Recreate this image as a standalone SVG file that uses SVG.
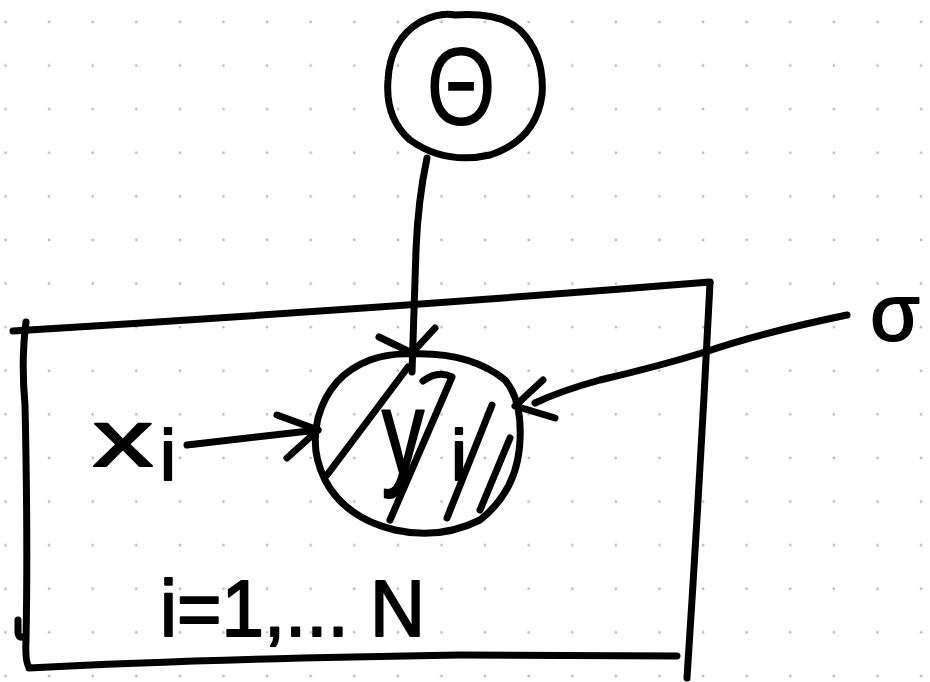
<svg xmlns="http://www.w3.org/2000/svg" width="930" height="682" viewBox="0 0 930 682">
<defs>
<pattern id="dots" x="-16.3" y="0.2" width="43.6" height="43.6" patternUnits="userSpaceOnUse">
<circle cx="21.8" cy="21.8" r="1.4" fill="#bdbdbd"/>
</pattern>
<style>
.ink{fill:none;stroke:#000;stroke-width:7;stroke-linecap:round;stroke-linejoin:round}
.hand{font-family:"Liberation Sans","DejaVu Sans",sans-serif;fill:#000;stroke:#000;stroke-width:2;stroke-linejoin:round}
</style>
</defs>
<rect width="930" height="682" fill="#fff"/>
<rect width="930" height="682" fill="url(#dots)"/>

<g id="plate">
<path class="ink" d="M13,331 Q360,310 710,282"/>
<path class="ink" d="M710,283 Q700,480 687,678"/>
<path class="ink" d="M26,322 Q21,360 25,405 Q28,540 26,640 Q25,662 29,667"/>
<path class="ink" d="M29,668 Q200,659 460,655 L677,656"/>
<path class="ink" d="M18,620 L18,633 Q19,638 22,637"/>
<text class="hand" x="160" y="636" font-size="80" textLength="265" lengthAdjust="spacingAndGlyphs">i=1,... N</text>
</g>

<g id="node-theta">
<path class="ink" d="M455,15 Q500,12 520,30 Q545,55 542,95 Q536,140 490,155 Q445,165 410,140 Q385,118 388,80 Q390,40 420,22 Q440,12 455,15 Z"/>
<text x="0" y="0" font-size="112" text-anchor="middle" font-family="'Liberation Sans','DejaVu Sans',sans-serif" fill="#000" transform="translate(461,125) scale(0.8,1)">Θ</text>
</g>

<g id="node-y">
<path class="ink" d="M412,354 Q470,352 505,380 Q522,400 520,440 Q518,490 480,520 Q440,540 395,530 Q345,518 325,480 Q310,450 318,418 Q330,375 370,360 Q390,353 412,354 Z"/>
<path class="ink" d="M327,475 L408,367"/>
<path class="ink" d="M423,381 Q438,370 452,377 L390,520"/>
<path class="ink" d="M492,405 L447,518"/>
<path class="ink" d="M510,438 L480,510"/>
<text class="hand" x="0" y="0" font-size="118" text-anchor="middle" transform="translate(403,473) scale(0.72,1)">y</text>
<text class="hand" x="459" y="480" font-size="72" text-anchor="middle">i</text>
</g>

<g id="node-x">
<text class="hand" x="93" y="466" font-size="80" textLength="60" lengthAdjust="spacingAndGlyphs">x</text>
<text class="hand" x="168" y="480" font-size="72" text-anchor="middle">i</text>
</g>

<g id="node-sigma">
<text class="hand" x="895" y="340" font-size="80" text-anchor="middle">σ</text>
</g>

<g id="connectors">
<path class="ink" d="M427,158 Q418,200 416,250 L412,372"/>
<path class="ink" d="M379,337 L412,353 L435,328"/>
<path class="ink" d="M187,445 L318,430"/>
<path class="ink" d="M277,415 L318,430 L287,458"/>
<path class="ink" d="M847,315 Q760,333 705,352 Q660,366 600,380 Q560,391 535,403"/>
<path class="ink" d="M543,380 L515,406 L555,418"/>
</g>
</svg>
